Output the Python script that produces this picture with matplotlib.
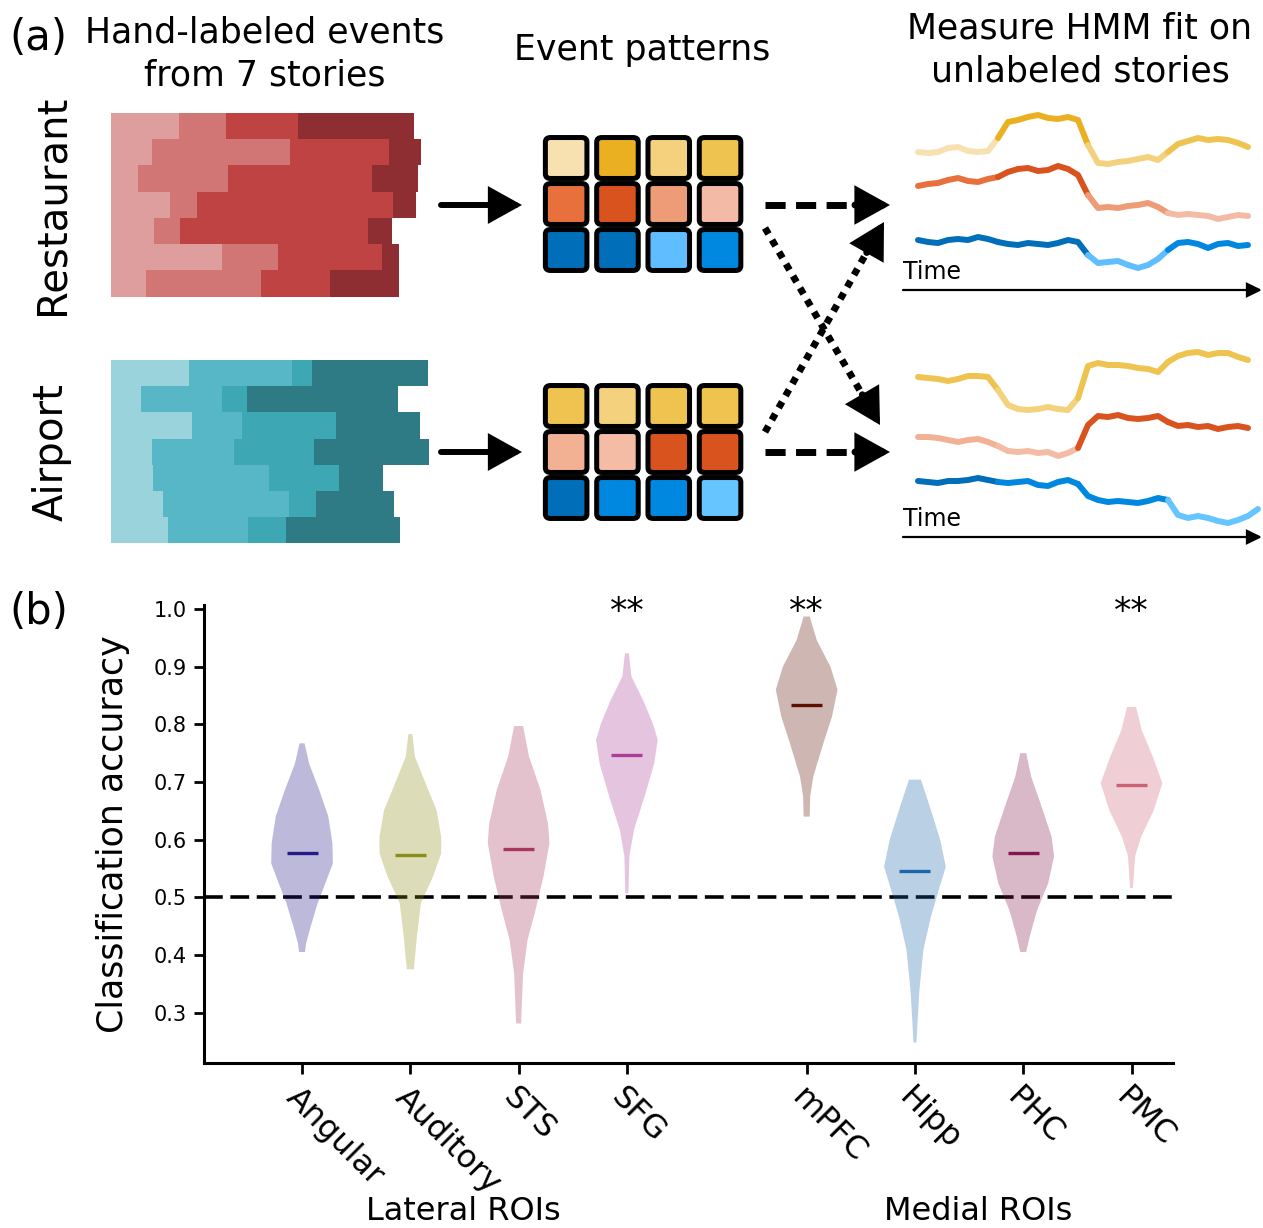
import matplotlib
matplotlib.use("Agg")
import matplotlib.pyplot as plt
from matplotlib.patches import FancyBboxPatch, FancyArrowPatch
import math

W, H = 1263, 1228

# ---------------- panel (a) data ----------------
# event end times (time units) for the 7 hand-labeled stories of each schema
restaurant_bounds = [
    [68, 115, 187, 303],
    [41, 179, 278, 310],
    [27, 117, 261, 307],
    [59, 86, 282, 305],
    [43, 69, 257, 281],
    [111, 167, 271, 288],
    [35, 150, 219, 288],
]
airport_bounds = [
    [78, 181, 201, 317],
    [30, 111, 136, 287],
    [81, 131, 225, 309],
    [41, 123, 203, 318],
    [42, 158, 228, 272],
    [52, 178, 205, 283],
    [57, 137, 175, 289],
]
restaurant_event_colors = ["#DE9E9E", "#D27575", "#BF4343", "#8E2E32"]
airport_event_colors = ["#9AD3DC", "#57B7C6", "#3DA7B4", "#2E7A85"]

# event patterns: rows = voxel groups, cols = events
restaurant_pattern = [
    ["#F8E1B0", "#EBB021", "#F4D27D", "#EEC350"],
    ["#E8703C", "#D9531E", "#EE9C78", "#F3BBA5"],
    ["#006EB8", "#006EB8", "#5EBEFF", "#0088E0"],
]
airport_pattern = [
    ["#EEC350", "#F4D27D", "#EEC350", "#EEC350"],
    ["#F3B194", "#F4BBA5", "#D9531E", "#D9531E"],
    ["#006EB8", "#0088E0", "#0088E0", "#66C4FF"],
]

# HMM fit time courses (screen-oriented signal, larger = lower)
rest_yellow = [152, 153, 152, 148, 147, 151, 152, 151, 138, 122, 120, 117, 115, 118, 119, 117, 120,
               145, 163, 164, 162, 161, 159, 157, 160, 152, 144, 141, 138, 140, 139, 140, 143, 147]
rest_orange = [186, 184, 183, 180, 178, 181, 182, 179, 177, 172, 169, 168, 171, 170, 166, 169, 175,
               195, 208, 207, 208, 206, 205, 203, 207, 213, 215, 214, 215, 216, 219, 217, 215, 216]
rest_blue = [240, 242, 243, 240, 239, 240, 237, 239, 242, 244, 245, 243, 244, 245, 243, 240, 242,
             255, 263, 262, 261, 265, 268, 265, 259, 250, 243, 242, 244, 248, 244, 243, 246, 245]
rest_event_starts = [0, 8, 17, 25]

air_yellow = [377, 378, 379, 381, 379, 376, 376, 377, 390, 405, 409, 410, 409, 407, 409, 410, 398,
              366, 363, 365, 365, 366, 368, 369, 372, 362, 356, 353, 352, 355, 353, 353, 357, 360]
air_orange = [437, 437, 438, 440, 442, 440, 439, 442, 446, 451, 452, 451, 453, 452, 456, 453, 448,
              425, 416, 417, 415, 418, 419, 418, 416, 422, 426, 425, 427, 426, 429, 427, 426, 428]
air_blue = [481, 482, 483, 481, 481, 480, 478, 480, 482, 483, 482, 481, 485, 486, 482, 480, 484,
            496, 500, 502, 501, 502, 503, 501, 498, 500, 515, 518, 516, 518, 521, 523, 520, 516, 509]
air_event_starts = [0, 8, 16, 25]

# ---------------- panel (b) data ----------------
roi_names = ["Angular", "Auditory", "STS", "SFG", "mPFC", "Hipp", "PHC", "PMC"]
roi_colors = ["#261989", "#8C8C1A", "#A8375C", "#AC3E98", "#5F1000", "#1C66AC", "#84164B", "#CA6276"]
roi_medians = [0.576, 0.573, 0.583, 0.747, 0.834, 0.545, 0.576, 0.695]
roi_significant = [False, False, False, True, True, False, False, True]
violin_levels = [
    [0.405, 0.420, 0.449, 0.490, 0.524, 0.559, 0.594, 0.640, 0.686, 0.732, 0.767],
    [0.375, 0.432, 0.490, 0.536, 0.576, 0.605, 0.651, 0.698, 0.744, 0.783],
    [0.281, 0.368, 0.426, 0.478, 0.536, 0.594, 0.628, 0.686, 0.744, 0.797],
    [0.507, 0.571, 0.617, 0.675, 0.732, 0.773, 0.802, 0.842, 0.883, 0.923],
    [0.640, 0.675, 0.709, 0.767, 0.813, 0.860, 0.900, 0.946, 0.987],
    [0.248, 0.281, 0.339, 0.409, 0.466, 0.513, 0.553, 0.599, 0.657, 0.704],
    [0.405, 0.432, 0.478, 0.524, 0.571, 0.605, 0.657, 0.709, 0.750],
    [0.516, 0.571, 0.605, 0.651, 0.698, 0.744, 0.790, 0.830],
]
violin_density = [
    [6, 8, 17, 31, 46, 61, 60, 52, 34, 14, 5],
    [7, 13, 21, 45, 61, 61, 52, 30, 9, 4],
    [5, 9, 18, 34, 50, 62, 59, 44, 21, 9],
    [3, 5, 14, 35, 54, 61, 51, 32, 9, 4],
    [6, 7, 13, 33, 50, 61, 47, 20, 6],
    [3, 5, 9, 17, 32, 48, 62, 51, 30, 12],
    [6, 13, 28, 50, 62, 57, 37, 16, 6],
    [3, 7, 19, 44, 61, 42, 20, 9],
]
chance = 0.5


def px_axes(fig, x0, y0, x1, y1):
    return fig.add_axes([x0 / W, 1 - y1 / H, (x1 - x0) / W, (y1 - y0) / H])


def draw_events(ax, bounds, colors):
    for r, ends in enumerate(bounds):
        starts = [0] + ends[:-1]
        for k, (s, e) in enumerate(zip(starts, ends)):
            ax.barh(r, e - s, left=s, height=1.0, color=colors[k], lw=0)
    ax.set_xlim(0, 330)
    ax.set_ylim(len(bounds) - 0.5, -0.5)
    ax.axis("off")


def draw_pattern(ax, pattern):
    for r, row in enumerate(pattern):
        for c, col in enumerate(row):
            ax.add_patch(FancyBboxPatch((c - 0.405, r - 0.445), 0.81, 0.89,
                                        boxstyle="round,pad=0,rounding_size=0.1",
                                        fc=col, ec="black", lw=3.6))
    ax.set_xlim(-0.5, 3.5)
    ax.set_ylim(2.5, -0.5)
    ax.axis("off")


def draw_fit(ax, series, pattern, starts):
    for line, row in zip(series, pattern):
        edges = starts + [len(line) - 1]
        for k in range(len(starts)):
            t = list(range(edges[k], edges[k + 1] + 1))
            ax.plot(t, [line[i] for i in t], color=row[k], lw=4.3,
                    solid_capstyle="round", solid_joinstyle="round")


def arrow(ax, p0, p1, lw, ls="-", head_len=0.9, head_w=0.5, scale=20):
    dx, dy = p1[0] - p0[0], p1[1] - p0[1]
    L = math.hypot(dx, dy)
    ux, uy = dx / L, dy / L
    back = head_len * scale * 1.39 + 6
    if ls != "-":
        pm = (p1[0] - ux * back, p1[1] - uy * back)
        ax.plot([p0[0], pm[0]], [p0[1], pm[1]], color="black", lw=lw, ls=ls,
                dash_capstyle="butt", solid_capstyle="butt")
        p0 = (p1[0] - ux * (back + 4), p1[1] - uy * (back + 4))
    ax.add_patch(FancyArrowPatch(p0, p1,
                                 arrowstyle=f"-|>,head_length={head_len},head_width={head_w}",
                                 mutation_scale=scale, lw=lw, color="black",
                                 shrinkA=0, shrinkB=0, joinstyle="miter"))


fig = plt.figure(figsize=(W / 100, H / 100), dpi=100)

# overlay in pixel coordinates for labels and arrows
ov = fig.add_axes([0, 0, 1, 1])
ov.set_xlim(0, W)
ov.set_ylim(H, 0)
ov.axis("off")

ov.text(9, 38, "(a)", fontsize=30, ha="left", va="center")
ov.text(9, 612, "(b)", fontsize=30, ha="left", va="center")
ov.text(265, 54, "Hand-labeled events\nfrom 7 stories", fontsize=25, ha="center", va="center",
        linespacing=1.3)
ov.text(642, 50, "Event patterns", fontsize=25, ha="center", va="center")
ov.text(1080, 50, "Measure HMM fit on\nunlabeled stories", fontsize=25, ha="center", va="center",
        linespacing=1.3)
ov.text(52, 205, "Restaurant", fontsize=29, rotation=90, ha="center", va="center")
ov.text(52, 452, "Airport", fontsize=29, rotation=90, ha="center", va="center")

# solid arrows into the patterns
arrow(ov, (441, 205), (522, 205), lw=4.3)
arrow(ov, (441, 452), (522, 452), lw=4.3)
# dashed arrows to matching schema
arrow(ov, (765, 205), (890, 205), lw=5, ls=(0, (2.9, 1.5)))
arrow(ov, (765, 452), (890, 452), lw=5, ls=(0, (2.9, 1.5)))
# dotted arrows to the other schema
arrow(ov, (765, 228), (880, 425), lw=5, ls=(0, (1, 1)))
arrow(ov, (765, 432), (884, 222), lw=5, ls=(0, (1, 1)))

# time axes
for y in (290, 537):
    arrow(ov, (903, y), (1262, y), lw=1.6, head_len=0.45, head_w=0.22)
ov.text(903, 284, "Time", fontsize=17, ha="left", va="bottom")
ov.text(903, 531, "Time", fontsize=17, ha="left", va="bottom")

ov.text(463, 1212, "Lateral ROIs", fontsize=23, ha="center", va="center")
ov.text(978, 1212, "Medial ROIs", fontsize=23, ha="center", va="center")

# hand-labeled events
ax_r = px_axes(fig, 111, 112.7, 441, 296.7)
draw_events(ax_r, restaurant_bounds, restaurant_event_colors)
ax_a = px_axes(fig, 111, 360, 441, 543.3)
draw_events(ax_a, airport_bounds, airport_event_colors)

# event patterns
ax_pr = px_axes(fig, 540.5, 135, 745.7, 273)
draw_pattern(ax_pr, restaurant_pattern)
ax_pa = px_axes(fig, 540.5, 383, 745.7, 521)
draw_pattern(ax_pa, airport_pattern)

# HMM fits
ax_fr = px_axes(fig, 903, 100, 1263, 300)
draw_fit(ax_fr, [rest_yellow, rest_orange, rest_blue], restaurant_pattern, rest_event_starts)
ax_fa = px_axes(fig, 903, 345, 1263, 548)
draw_fit(ax_fa, [air_yellow, air_orange, air_blue], airport_pattern, air_event_starts)
ax_fr.set_ylim(300, 100)
ax_fa.set_ylim(548, 345)
for a in (ax_fr, ax_fa):
    a.set_xlim(-1.5, 34.5)
    a.axis("off")

# ---------------- panel (b) ----------------
ax = px_axes(fig, 203.6, 605, 1173, 1062.7)
ax.patch.set_alpha(0)
positions = [i if i < 4 else i + 0.66 for i in range(len(roi_names))]

ax.axhline(chance, color="black", lw=2.6, ls=(0, (5.2, 2.1)), zorder=1)

stats = []
for lv, dn, med in zip(violin_levels, violin_density, roi_medians):
    stats.append({"coords": lv, "vals": dn, "mean": med, "median": med,
                  "min": lv[0], "max": lv[-1]})
parts = ax.violin(stats, positions=positions, widths=0.57, showextrema=False)
for body, col in zip(parts["bodies"], roi_colors):
    body.set_facecolor(col)
    body.set_edgecolor("none")
    body.set_alpha(0.3)
    body.set_zorder(2)

for pos, med, col, sig in zip(positions, roi_medians, roi_colors, roi_significant):
    ax.hlines(med, pos - 0.143, pos + 0.143, color=col, lw=2.4, zorder=3)
    if sig:
        ax.text(pos, 0.978, "**", fontsize=25, ha="center", va="baseline")

ax.set_xlim(-0.909, 8.043)
ax.set_ylim(0.213, 1.007)
ax.set_yticks([0.3, 0.4, 0.5, 0.6, 0.7, 0.8, 0.9, 1.0])
ax.set_xticks(positions, roi_names, rotation=-45, ha="left", rotation_mode="anchor", fontsize=23)
ax.tick_params(axis="y", labelsize=15, width=2, length=7, pad=5)
ax.tick_params(axis="x", width=2, length=8, pad=6)
ax.set_ylabel("Classification accuracy", fontsize=25, va="center")
ax.yaxis.set_label_coords(-0.0935, 0.5)
for side in ("top", "right"):
    ax.spines[side].set_visible(False)
for side in ("left", "bottom"):
    ax.spines[side].set_linewidth(2.2)

fig.savefig("out.png", dpi=100)
